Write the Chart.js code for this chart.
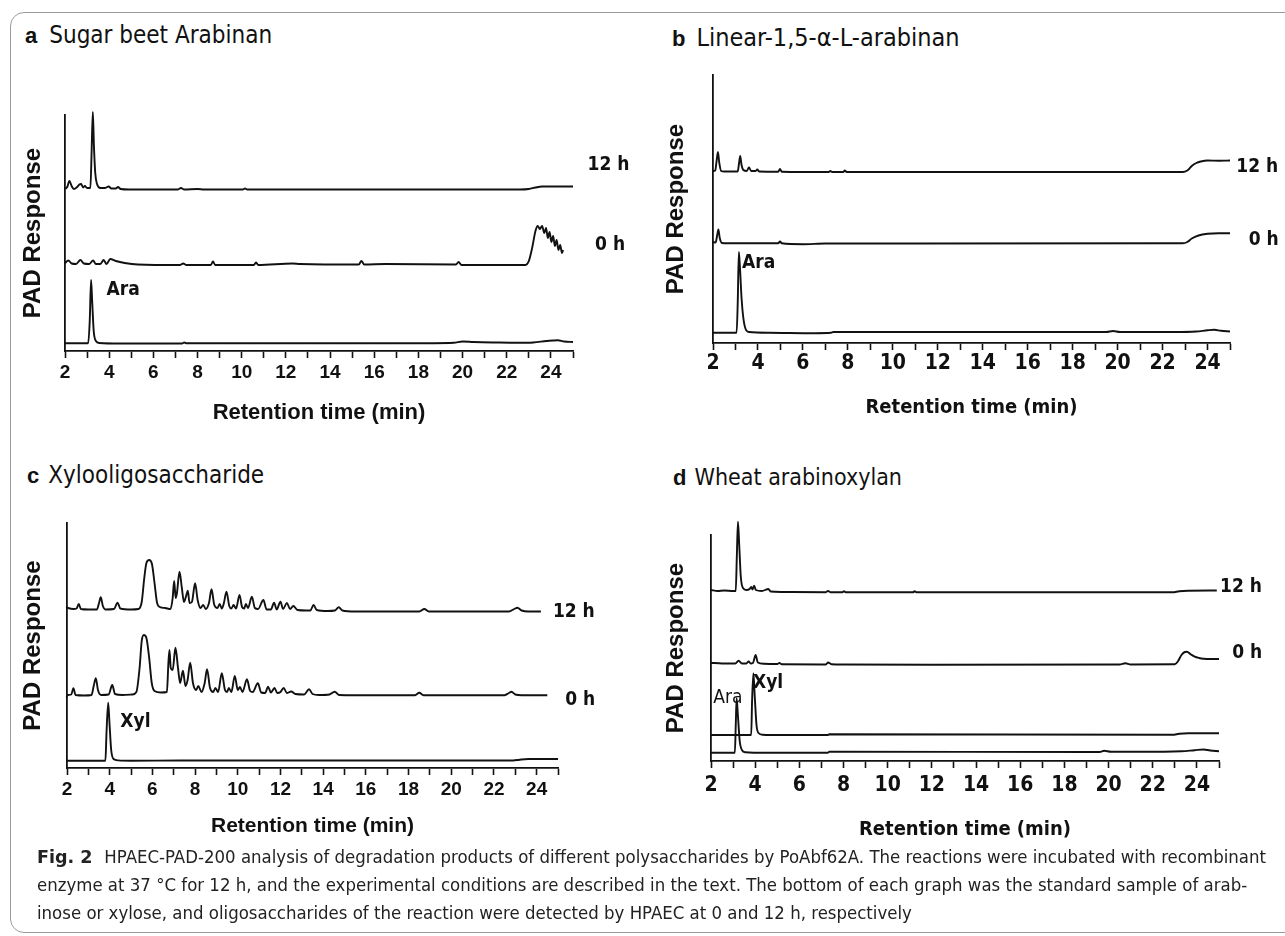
<!DOCTYPE html>
<html>
<head>
<meta charset="utf-8">
<script src="https://cdn.jsdelivr.net/npm/chart.js@4.4.0/dist/chart.umd.min.js"></script>
<style>
  body { margin:0; background:#fff; width:1285px; height:936px; overflow:hidden; position:relative; }
  .frame { position:absolute; left:10px; top:12px; width:1300px; height:921px; border:1.5px solid #9a9a9a; border-radius:14px; box-sizing:border-box; }
  canvas { position:absolute; }
  .ttl { position:absolute; white-space:nowrap; color:#111; line-height:1;
         font-family:"Liberation Sans Narrow","DejaVu Sans Condensed",sans-serif; font-size:24px; }
  .ttl b { font-family:"Liberation Sans",Arial,sans-serif; font-size:22px; margin-right:12px; }
  .cap { position:absolute; left:37px; top:843px; white-space:nowrap; color:#222; line-height:28px;
         font-family:"Liberation Sans Narrow","DejaVu Sans Condensed",sans-serif; font-size:17px; transform-origin:0 0; }
  .cap b { font-size:18px; margin-right:6px; }
</style>
</head>
<body>
<div class="frame"></div>
<div class="ttl" style="left:25px;top:23px"><b>a</b>Sugar beet Arabinan</div>
<div class="ttl" style="left:672px;top:25px;font-size:25px"><b style="margin-right:11px">b</b>Linear-1,5-α-L-arabinan</div>
<div class="ttl" style="left:27px;top:463px"><b style="margin-right:9px">c</b>Xylooligosaccharide</div>
<div class="ttl" style="left:673px;top:466px;font-size:23px"><b style="margin-right:8px">d</b>Wheat arabinoxylan</div>

<canvas id="pa" width="640" height="335" style="left:0px;top:95px"></canvas>
<canvas id="pb" width="645" height="370" style="left:640px;top:60px"></canvas>
<canvas id="pc" width="640" height="340" style="left:0px;top:505px"></canvas>
<canvas id="pd" width="645" height="335" style="left:640px;top:515px"></canvas>

<div class="cap" id="cap"><span id="l1"><b>Fig. 2</b> HPAEC-PAD-200 analysis of degradation products of different polysaccharides by PoAbf62A. The reactions were incubated with recombinant</span><br>enzyme at 37 °C for 12 h, and the experimental conditions are described in the text. The bottom of each graph was the standard sample of arab-<br>inose or xylose, and oligosaccharides of the reaction were detected by HPAEC at 0 and 12 h, respectively</div>

<script>
// retention time (min), PAD response (arbitrary units, traces stacked)
const xTickLabels = [2, 4, 6, 8, 10, 12, 14, 16, 18, 20, 22, 24];
const traceNames = ['12 h', '0 h'];

// a  Sugar beet Arabinan
const a12h = [[2.0,162],[2.1,164],[2.2,170],[2.3,165],[2.4,162],[2.55,164],[2.65,166.5],[2.73,167],[2.82,163.5],[2.9,165],[3.0,163],[3.15,163],[3.2,195],[3.26,239],[3.31,205],[3.37,178],[3.45,167],[3.6,163],[3.8,163],[3.98,164.5],[4.1,162.5],[4.3,162.5],[4.4,164],[4.52,162],[4.9,161.5],[7.1,161.5],[7.25,163],[7.4,161.5],[8.0,162],[8.3,161.5],[10.05,161.5],[10.15,162.5],[10.25,161.5],[22.6,161.5],[23.0,162],[23.3,163.5],[23.6,164.5],[25.0,164.5]];
const a0h = [[2.0,88],[2.15,90.5],[2.3,87.5],[2.5,87],[2.7,91],[2.85,87.5],[3.1,87],[3.27,90.5],[3.4,87],[3.6,87],[3.75,91],[3.88,87],[4.05,92],[4.3,90],[4.7,88],[5.3,86.5],[7.2,86],[7.35,87.5],[7.5,86],[8.6,86],[8.7,89.5],[8.8,86],[10.55,86],[10.65,88.5],[10.75,86],[12.3,87.5],[12.65,87],[15.3,86.5],[15.42,90],[15.55,86.5],[16.5,87],[19.7,86.5],[19.82,89],[19.95,86],[22.85,86],[23.0,90],[23.15,103],[23.3,120],[23.4,125],[23.5,122],[23.6,125],[23.7,118],[23.78,123],[23.86,113],[23.94,119],[24.02,109],[24.1,115],[24.18,105],[24.26,111],[24.34,101],[24.42,106],[24.5,98],[24.55,101]];
const aAra = [[2.0,7.7],[3.05,7.7],[3.12,30],[3.18,71],[3.23,50],[3.3,20],[3.4,10],[3.55,8],[4.5,7.5],[7.3,7.5],[7.4,8.5],[7.5,7.7],[17.5,7.7],[19.6,8.3],[20.0,9.5],[20.5,9],[21.5,8.5],[22.5,8.2],[23.2,8.5],[23.8,10],[24.3,10.8],[24.6,9.5],[25.0,9]];

// b  Linear-1,5-alpha-L-arabinan
const b12h = [[2.0,172],[2.1,172.5],[2.16,182],[2.22,191],[2.28,180],[2.36,172],[2.5,171.5],[3.1,171.5],[3.16,180],[3.21,187],[3.27,178],[3.35,173],[3.5,172],[3.6,175.5],[3.7,172],[3.9,172],[3.97,173.5],[4.05,171.5],[4.9,171.3],[4.98,174],[5.06,171.3],[7.15,171],[7.22,172],[7.3,171],[7.8,171],[7.86,172.5],[7.95,171],[22.9,171],[23.1,172.5],[23.3,177],[23.5,180],[23.7,181.5],[24.0,182.5],[24.5,182.3],[25.0,182.5]];
const b0h = [[2.0,101],[2.12,100.5],[2.18,107],[2.24,113.5],[2.3,105],[2.4,100],[2.6,99.7],[4.9,99.7],[4.98,101.5],[5.06,99.7],[6.0,98.8],[7.0,99.5],[22.9,99.7],[23.1,101],[23.3,104.5],[23.6,107.5],[24.0,109.2],[24.5,109.7],[25.0,109.7]];
const bAra = [[2.0,10.3],[3.05,10.3],[3.1,40],[3.15,91],[3.2,75],[3.27,45],[3.35,25],[3.45,14],[3.6,11],[4.5,10.3],[6.5,9.8],[7.25,10.2],[7.35,11],[19.5,11],[19.8,12],[20.1,11],[22.5,11],[23.5,11.5],[24.0,12.7],[24.3,13.2],[24.6,12.2],[25.0,11.5]];

// c  Xylooligosaccharide
const c12h = [[1.77,160],[1.85,158],[1.95,161],[2.05,160],[2.3,159],[2.45,159.5],[2.55,164],[2.65,159],[3.0,158.5],[3.4,158.5],[3.5,165],[3.58,170.7],[3.68,162],[3.8,158.5],[4.2,159],[4.37,165.3],[4.5,159.5],[5.0,158.5],[5.35,159],[5.5,166],[5.62,190],[5.72,205],[5.85,208],[5.98,204],[6.1,185],[6.22,165],[6.35,161],[6.6,160],[6.85,159],[6.95,170],[7.02,187],[7.09,170],[7.15,175],[7.27,196.3],[7.38,180],[7.48,166],[7.58,172],[7.66,177.3],[7.74,165],[7.85,166],[8.0,184.7],[8.12,168],[8.25,160],[8.38,163],[8.5,159],[8.65,165],[8.77,178.7],[8.9,163],[9.05,160],[9.15,164],[9.25,159.5],[9.35,165],[9.47,176.3],[9.6,162],[9.7,159.5],[9.8,163],[9.92,159.5],[10.08,173],[10.2,161],[10.3,159.5],[10.38,164],[10.48,160],[10.66,171.3],[10.8,160],[10.95,159],[11.2,168],[11.35,158.5],[11.55,158.5],[11.7,165.3],[11.82,158.5],[12.0,166.3],[12.12,159],[12.3,165],[12.45,159],[12.6,162],[12.8,158],[13.2,157.5],[13.4,157.5],[13.55,163],[13.7,158],[14.2,157],[14.55,157.5],[14.73,160.7],[14.9,157.5],[15.5,156.5],[18.5,156.5],[18.74,159],[18.95,156.5],[22.7,156.5],[22.95,159],[23.1,160.3],[23.3,157.5],[23.6,156.5],[24.2,156.5]];
const c0h = [[1.62,74.5],[1.72,77],[1.8,78],[1.88,72],[1.95,71],[2.05,73],[2.2,73.5],[2.3,79.7],[2.4,73],[2.8,72.5],[3.15,73],[3.25,82],[3.35,89.7],[3.45,78],[3.6,73],[3.95,73.5],[4.12,83],[4.25,74],[4.6,73],[5.05,73.5],[5.25,76],[5.4,100],[5.5,127],[5.6,133],[5.72,130],[5.85,110],[5.97,85],[6.1,77],[6.4,75.5],[6.68,76],[6.75,105],[6.8,118],[6.86,100],[6.95,98],[7.08,120.3],[7.2,100],[7.3,85],[7.43,97.3],[7.55,82],[7.65,88],[7.77,105.3],[7.9,85],[8.05,78],[8.15,82],[8.3,76],[8.45,85],[8.56,98.7],[8.7,80],[8.85,76],[8.95,80],[9.08,76],[9.25,94.7],[9.4,78],[9.5,76],[9.58,80],[9.7,76],[9.86,92],[10.0,78],[10.1,81],[10.22,76],[10.43,88.7],[10.58,77],[10.7,76],[10.94,84.7],[11.1,75.5],[11.28,75],[11.42,81.3],[11.55,75.5],[11.72,80],[11.85,75],[12.0,76],[12.15,80],[12.3,75],[12.5,76.5],[12.7,74],[13.1,73.5],[13.34,78.7],[13.5,74],[13.8,73],[14.3,73.5],[14.54,76.3],[14.75,73],[15.5,72.8],[18.3,72.8],[18.5,75.3],[18.7,72.8],[22.5,72.8],[22.7,75],[22.82,76.3],[23.0,73.5],[23.3,72.8],[24.5,72.8]];
const cXyl = [[2.0,7.3],[3.8,7.3],[3.85,35],[3.93,65.3],[3.99,45],[4.07,18],[4.18,9],[4.4,7.6],[5.0,7.3],[7.3,7.5],[22.9,7.5],[23.2,8.3],[23.6,9],[25.0,9]];

// d  Wheat arabinoxylan
const d12h = [[2.0,171],[2.3,170],[2.6,170.5],[3.0,170],[3.12,170],[3.17,205],[3.22,239.3],[3.28,215],[3.35,184],[3.45,173],[3.6,171],[3.75,172],[3.82,174],[3.88,171.5],[3.95,175.3],[4.03,171],[4.3,170],[4.6,172],[4.7,169.5],[5.2,169],[7.2,168.8],[7.3,170],[7.4,168.8],[7.95,168.8],[8.02,169.8],[8.1,168.8],[11.15,168.7],[11.22,169.8],[11.3,168.7],[22.9,168.7],[23.2,169.8],[23.6,170.3],[24.9,170.5]];
const d0h = [[2.0,98.3],[2.5,97.5],[3.1,97.5],[3.25,100.3],[3.4,97.5],[3.6,97.5],[3.7,99.5],[3.8,97.5],[3.9,98],[4.02,106],[4.12,98.5],[4.4,97.2],[5.0,97],[5.1,98],[5.2,96.7],[7.2,96.5],[7.3,98.5],[7.45,96.8],[8.0,96.5],[12,96.3],[20.5,96.5],[20.76,97.8],[21.0,96.5],[23.0,96.7],[23.15,100],[23.3,106],[23.45,109],[23.55,109.3],[23.7,107],[23.9,104.3],[24.1,103],[24.3,102.3],[24.6,102],[25.0,102]];
const dXyl = [[2.0,26],[3.82,26],[3.86,60],[3.92,87.7],[3.98,65],[4.06,36],[4.15,28],[4.35,26.3],[5.0,26],[7.3,26],[7.35,26.8],[22.9,26.2],[23.2,27.3],[23.6,27.8],[25.0,27.8]];
const dAra = [[2.0,8.3],[3.08,8.3],[3.12,35],[3.16,62.7],[3.22,45],[3.3,20],[3.4,11],[3.55,8.8],[4.5,8.3],[7.3,8.3],[7.35,9.2],[19.6,9],[19.8,10.3],[20.1,9.3],[22.5,9.3],[23.3,9.7],[23.9,10.8],[24.3,11.5],[24.6,10.5],[25.0,9.8]];

const ARIAL = '"Liberation Sans", Arial, sans-serif';
const NARROW = '"Liberation Sans Narrow", "DejaVu Sans Condensed", sans-serif';
const labelFont = 'bold 19px ' + NARROW;
const stdFont = 'bold 19px ' + NARROW;

// text next to the traces, placed in data coordinates
const textMarks = {
  id: 'textMarks',
  afterDatasetsDraw(chart, args, opts) {
    const {ctx, scales: {x, y}} = chart;
    ctx.save();
    ctx.fillStyle = '#111';
    ctx.textAlign = 'left';
    ctx.textBaseline = 'middle';
    (opts.items || []).forEach(it => {
      ctx.font = it.font;
      ctx.fillText(it.text, x.getPixelForValue(it.x), y.getPixelForValue(it.y));
    });
    ctx.restore();
  }
};

// box = canvas [left, top, w, h], area = plot area [left, top, right, bottom] in page px
const panels = [
  { id: 'pa', box: [0, 95, 640, 335], area: [65, 115, 573, 351], yTitleX: 33, tickY: 373, xTitleY: 413, ymax: 236,
    tickFont: {family: ARIAL, size: 19, weight: 'bold'}, xTitleFont: {family: ARIAL, size: 22, weight: 'bold'},
    traces: [a12h, a0h, aAra],
    marks: [{text: traceNames[0], x: 25.66, y: 186, font: labelFont}, {text: traceNames[1], x: 26.0, y: 106, font: labelFont},
            {text: 'Ara', x: 3.88, y: 61, font: stdFont}] },
  { id: 'pb', box: [640, 60, 645, 370], area: [713, 75, 1230, 343], yTitleX: 676, tickY: 364, xTitleY: 408, ymax: 268,
    tickFont: {family: NARROW, size: 21, weight: 'bold'}, xTitleFont: {family: NARROW, size: 20, weight: 'bold'},
    traces: [b12h, b0h, bAra],
    marks: [{text: traceNames[0], x: 25.28, y: 176, font: labelFont}, {text: traceNames[1], x: 25.83, y: 103, font: labelFont},
            {text: 'Ara', x: 3.29, y: 80, font: stdFont}] },
  { id: 'pc', box: [0, 505, 640, 340], area: [67, 523, 558, 768], yTitleX: 33, tickY: 790, xTitleY: 826, ymax: 245,
    tickFont: {family: ARIAL, size: 19, weight: 'bold'}, xTitleFont: {family: ARIAL, size: 21, weight: 'bold'},
    traces: [c12h, c0h, cXyl],
    marks: [{text: traceNames[0], x: 24.76, y: 156, font: labelFont}, {text: traceNames[1], x: 25.34, y: 68, font: labelFont},
            {text: 'Xyl', x: 4.5, y: 46, font: stdFont}] },
  { id: 'pd', box: [640, 515, 645, 335], area: [711, 535, 1219, 761], yTitleX: 676, tickY: 786, xTitleY: 830, ymax: 226,
    tickFont: {family: NARROW, size: 21, weight: 'bold'}, xTitleFont: {family: NARROW, size: 20, weight: 'bold'},
    traces: [d12h, d0h, dXyl, dAra],
    marks: [{text: traceNames[0], x: 25.05, y: 174, font: labelFont}, {text: traceNames[1], x: 25.6, y: 108, font: labelFont},
            {text: 'Xyl', x: 3.9, y: 78, font: stdFont}, {text: 'Ara', x: 2.1, y: 63, font: '19px ' + NARROW}] }
];

function buildPanel(p) {
  const [bl, bt, bw, bh] = p.box;
  const [al, at, ar, ab] = p.area;
  const yW = al - bl;
  const xH = bt + bh - ab;
  const tickLen = 7;
  const tickLH = p.tickFont.size * 1.2;
  const xtLH = p.xTitleFont.size * 1.2;
  const ytFont = {family: ARIAL, size: 24, weight: 'bold'};
  const ytLH = 24 * 1.2;

  new Chart(document.getElementById(p.id), {
    type: 'line',
    data: {
      datasets: p.traces.map(t => ({
        data: t.map(pt => ({x: pt[0], y: pt[1]})),
        borderColor: '#111',
        borderWidth: 1.9,
        pointRadius: 0,
        fill: false,
        cubicInterpolationMode: 'monotone',
        clip: false
      }))
    },
    options: {
      responsive: false,
      animation: false,
      devicePixelRatio: 1,
      layout: { padding: { left: 0, top: at - bt, right: bl + bw - ar, bottom: 0 } },
      plugins: { legend: {display: false}, tooltip: {enabled: false}, textMarks: { items: p.marks } },
      scales: {
        x: {
          type: 'linear', min: 2, max: 25,
          afterFit: s => { s.height = xH; },
          ticks: {
            stepSize: 1, autoSkip: false, maxRotation: 0, minRotation: 0,
            padding: p.tickY - ab - tickLen - tickLH / 2,
            color: '#111', font: p.tickFont,
            callback: v => xTickLabels.includes(v) ? String(v) : ''
          },
          grid: { drawOnChartArea: false, drawTicks: true, tickLength: tickLen, tickColor: '#111', tickWidth: 1.6 },
          border: { display: true, color: '#111', width: 1.8 },
          title: { display: true, text: 'Retention time (min)', color: '#111', font: p.xTitleFont,
                   padding: { top: 0, bottom: bt + bh - p.xTitleY - xtLH / 2 } }
        },
        y: {
          min: 0, max: p.ymax,
          afterFit: s => { s.width = yW; },
          ticks: { display: false },
          grid: { drawOnChartArea: false, drawTicks: false },
          border: { display: true, color: '#111', width: 1.8 },
          title: { display: true, text: 'PAD Response', color: '#111', font: ytFont,
                   padding: { top: p.yTitleX - bl - ytLH / 2, bottom: 0 } }
        }
      }
    },
    plugins: [textMarks]
  });
}

panels.forEach(buildPanel);

// stretch the caption so its first line spans the same width as in the figure
const cap = document.getElementById('cap');
const w1 = document.getElementById('l1').getBoundingClientRect().width;
cap.style.transform = 'scaleX(' + (1229 / w1) + ')';
</script>
</body>
</html>
